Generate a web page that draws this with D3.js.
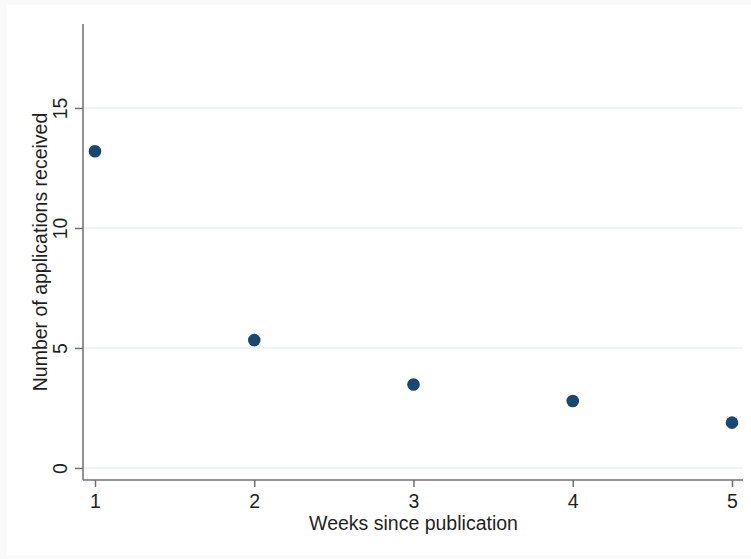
<!DOCTYPE html>
<html>
<head>
<meta charset="utf-8">
<script src="https://cdn.jsdelivr.net/npm/d3@7"></script>
<style>
  body { margin: 0; background: #f9f9f9; }
  text { font-family: "Liberation Sans", Arial, sans-serif; fill: #1f1f1f; }
</style>
</head>
<body>
<svg id="chart" width="751" height="559"></svg>
<script>
// Data
var weeks = [1, 2, 3, 4, 5];
var applications = [13.2, 5.33, 3.48, 2.79, 1.89];
var yTicks = [0, 5, 10, 15];

var svg = d3.select('#chart');

// White graph region
svg.append('rect')
  .attr('x', 7).attr('y', 5)
  .attr('width', 751 - 7).attr('height', 555 - 5)
  .style('fill', '#ffffff');

// Scales
var x = d3.scaleLinear().domain([1, 5]).range([95, 732]);
var y = d3.scaleLinear().domain([0, 15]).range([468, 108]);

var plotLeft = 83, plotRight = 743, plotTop = 24, plotBottom = 480;

// Grid lines
svg.append('g')
  .selectAll('line')
  .data(yTicks).enter()
  .append('line')
  .attr('x1', plotLeft).attr('x2', plotRight)
  .attr('y1', function(d) { return y(d); })
  .attr('y2', function(d) { return y(d); })
  .style('stroke', '#eaf1f3')
  .style('stroke-width', 1.5);

// Y axis
var yAxis = svg.append('g')
  .attr('transform', 'translate(' + plotLeft + ',0)')
  .call(d3.axisLeft(y).tickValues(yTicks).tickSize(8).tickSizeOuter(0).tickPadding(0));
yAxis.select('.domain').remove();
yAxis.selectAll('.tick line').style('stroke', '#707070').style('stroke-width', 1.5);
yAxis.selectAll('.tick text')
  .attr('x', null).attr('dy', null)
  .attr('transform', 'translate(-16,0) rotate(-90)')
  .style('text-anchor', 'middle')
  .style('font-size', '19.5px');

// X axis
var xAxis = svg.append('g')
  .attr('transform', 'translate(0,' + plotBottom + ')')
  .call(d3.axisBottom(x).tickValues(weeks).tickFormat(d3.format('d')).tickSize(7).tickSizeOuter(0).tickPadding(7));
xAxis.select('.domain').remove();
xAxis.selectAll('.tick line').style('stroke', '#707070').style('stroke-width', 1.5);
xAxis.selectAll('.tick text').style('font-size', '19.5px');

// Axis lines
svg.append('line')
  .attr('x1', plotLeft).attr('x2', plotLeft)
  .attr('y1', plotTop).attr('y2', plotBottom)
  .style('stroke', '#707070').style('stroke-width', 1.5);
svg.append('line')
  .attr('x1', plotLeft).attr('x2', plotRight)
  .attr('y1', plotBottom).attr('y2', plotBottom)
  .style('stroke', '#707070').style('stroke-width', 1.5);

// Axis titles
svg.append('text')
  .attr('x', x(3)).attr('y', 530)
  .style('text-anchor', 'middle')
  .style('font-size', '19.5px')
  .text('Weeks since publication');

svg.append('text')
  .attr('transform', 'translate(47,' + ((plotTop + plotBottom) / 2) + ') rotate(-90)')
  .style('text-anchor', 'middle')
  .style('font-size', '19.5px')
  .text('Number of applications received');

// Points
svg.append('g')
  .selectAll('circle')
  .data(weeks).enter()
  .append('circle')
  .attr('cx', function(d) { return x(d); })
  .attr('cy', function(d, i) { return y(applications[i]); })
  .attr('r', 6.3)
  .style('fill', '#1a476f');
</script>
</body>
</html>
